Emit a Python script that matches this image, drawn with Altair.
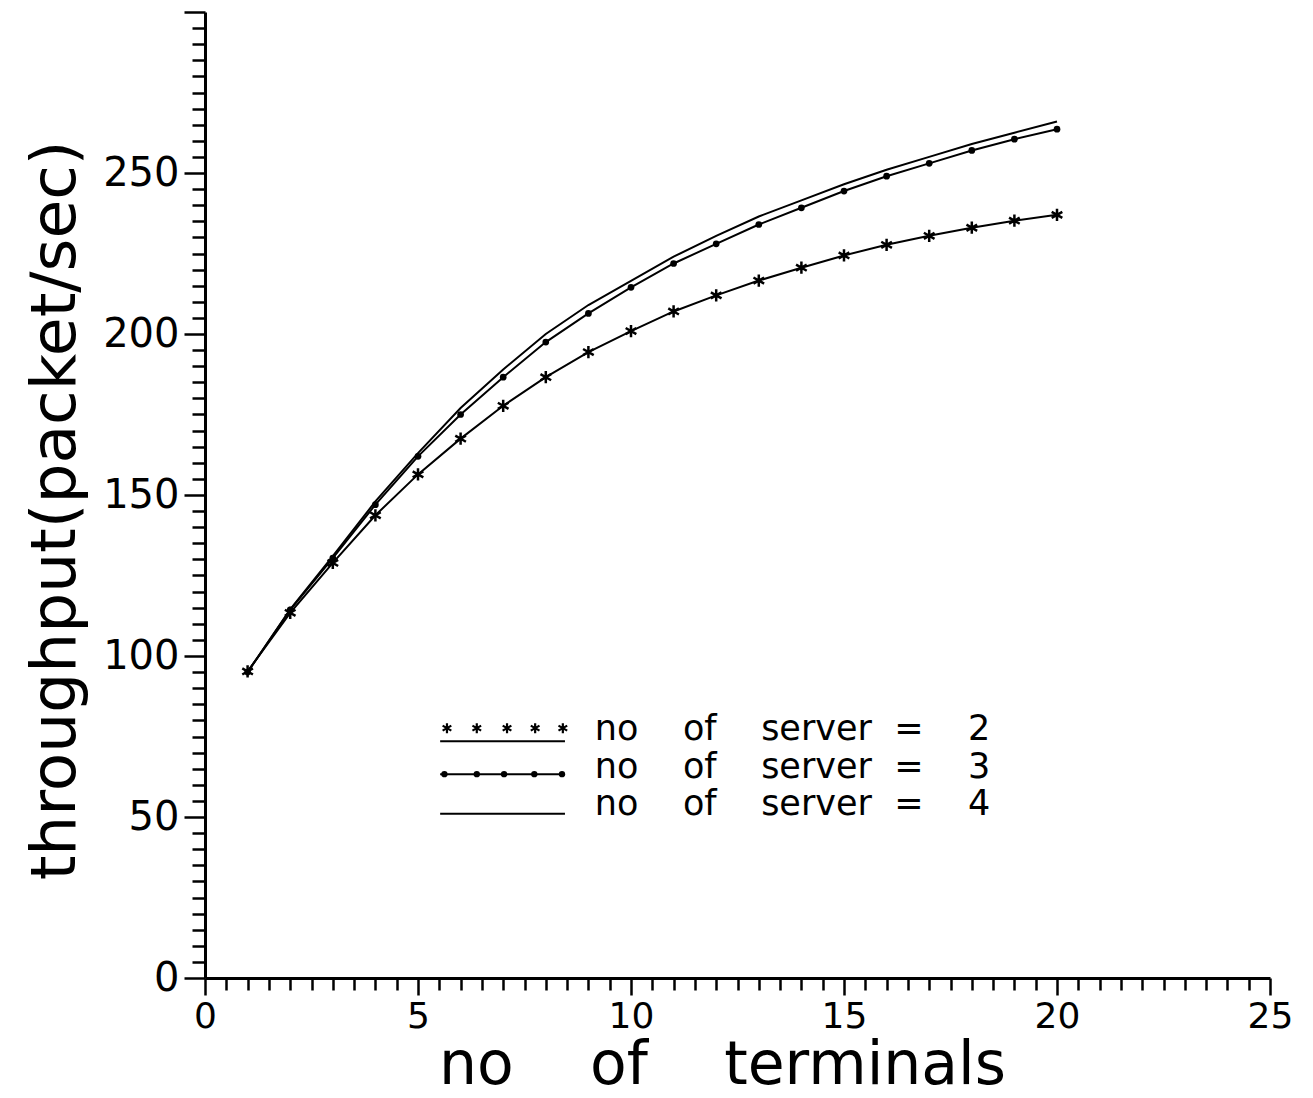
import altair as alt
import pandas as pd

# Throughput of the terminal/server system, one series per number of servers
terminals = list(range(1, 21))
server2 = [95.2, 113.4, 128.9, 143.7, 156.4, 167.5, 177.7, 186.6, 194.4, 200.9,
           207.0, 212.0, 216.6, 220.6, 224.4, 227.7, 230.5, 233.0, 235.2, 237.0]
server3 = [95.0, 114.3, 130.4, 147.0, 162.0, 175.0, 186.6, 197.5, 206.4, 214.5,
           221.9, 228.0, 234.0, 239.2, 244.4, 249.0, 253.0, 257.0, 260.5, 263.6]
server4 = [95.0, 114.5, 131.0, 148.0, 163.0, 177.0, 189.0, 200.0, 209.0, 216.5,
           224.0, 230.5, 236.5, 241.5, 246.5, 251.0, 255.0, 259.0, 262.5, 266.0]

NB = "\u00a0"  # non-breaking space keeps the wide word gaps in SVG text


def spaced(words, gaps):
    out = words[0]
    for w, g in zip(words[1:], gaps):
        out += NB * g + w
    return out


# Hand-drawn legend: sample strokes and labels in data units
server_counts = ["2", "3", "4"]
legend_labels = [spaced(["no", "of", "server", "=", n], [4, 4, 2, 4]) for n in server_counts]
legend_text_x = [9.15, 9.15, 9.15]
legend_text_y = [77.3, 65.5, 54.0]
legend_line_x0 = [5.52, 5.52, 5.52]
legend_line_x1 = [8.45, 8.45, 8.45]
legend_line_y = [73.5, 63.3, 51.0]
legend_star_x = [5.68, 6.38, 7.09, 7.75, 8.40]
legend_star_y = 77.6
legend_dot_x = [5.62, 6.38, 7.02, 7.73, 8.38]

FONT = "DejaVu Sans"

curves = pd.DataFrame({
    "terminals": terminals * 3,
    "throughput": server2 + server3 + server4,
    "series": ["2"] * 20 + ["3"] * 20 + ["4"] * 20,
})
stars = pd.DataFrame({"terminals": terminals, "throughput": server2})
dots = pd.DataFrame({"terminals": terminals, "throughput": server3})

x_axis = alt.Axis(
    values=[i * 0.5 for i in range(51)],
    labelExpr="datum.value % 5 === 0 ? format(datum.value, 'd') : ''",
    tickSize={"condition": {"test": "datum.value % 5 === 0", "value": 17}, "value": 12},
    labelPadding=4,
    labelFlush=False,
    labelFontSize=36,
    title=spaced(["no", "of", "terminals"], [4, 4]),
    titleFontSize=60,
    titleFontWeight="normal",
    titleFont=FONT,
    titleColor="black",
    titleX=517,
    titleY=105,
    titleBaseline="alphabetic",
    titleAnchor="middle",
    titleAlign="center",
    grid=False,
)
y_axis = alt.Axis(
    values=[i * 5 for i in range(61)],
    labelExpr="datum.value % 50 === 0 && datum.value < 300 ? format(datum.value, 'd') : ''",
    tickSize={"condition": {"test": "datum.value % 50 === 0", "value": 21}, "value": 13},
    labelPadding=5,
    labelFlush=False,
    labelFontSize=40,
    title="throughput(packet/sec)",
    titleFontSize=63,
    titleFontWeight="normal",
    titleFont=FONT,
    titleColor="black",
    titleAngle=-90,
    titleX=-150,
    titleY=498,
    titleAlign="center",
    titleBaseline="middle",
    grid=False,
)
x_scale = alt.Scale(domain=[0, 25], nice=False, zero=False)
y_scale = alt.Scale(domain=[0, 300], nice=False, zero=False)


def ex(field):
    return alt.X(field, type="quantitative", scale=x_scale, axis=x_axis)


def ey(field):
    return alt.Y(field, type="quantitative", scale=y_scale, axis=y_axis)


asterisk = "M0,-1L0,1M-0.87,-0.5L0.87,0.5M-0.87,0.5L0.87,-0.5"

lines = alt.Chart(curves).mark_line(color="black", strokeWidth=2).encode(
    x=ex("terminals"), y=ey("throughput"), detail="series:N"
)
star_pts = alt.Chart(stars).mark_point(
    shape=asterisk, filled=False, color="black", strokeWidth=2.5, size=150, opacity=1
).encode(x=ex("terminals"), y=ey("throughput"))
dot_pts = alt.Chart(dots).mark_circle(color="black", size=45, opacity=1).encode(
    x=ex("terminals"), y=ey("throughput")
)

leg_df = pd.DataFrame({
    "label": legend_labels,
    "tx": legend_text_x,
    "ty": legend_text_y,
    "x0": legend_line_x0,
    "x1": legend_line_x1,
    "ly": legend_line_y,
})
leg_lines = alt.Chart(leg_df).mark_rule(color="black", strokeWidth=2).encode(
    x=ex("x0"), x2="x1", y=ey("ly")
)
leg_text = alt.Chart(leg_df).mark_text(
    align="left", baseline="middle", font=FONT, fontSize=35, color="black"
).encode(x=ex("tx"), y=ey("ty"), text="label:N")
leg_stars = alt.Chart(pd.DataFrame({
    "sx": legend_star_x, "sy": [legend_star_y] * len(legend_star_x)
})).mark_point(
    shape=asterisk, filled=False, color="black", strokeWidth=2.2, size=100, opacity=1
).encode(x=ex("sx"), y=ey("sy"))
leg_dots = alt.Chart(pd.DataFrame({
    "dx": legend_dot_x, "dy": [legend_line_y[1]] * len(legend_dot_x)
})).mark_circle(color="black", size=40, opacity=1).encode(x=ex("dx"), y=ey("dy"))

chart = alt.layer(
    lines, star_pts, dot_pts, leg_lines, leg_stars, leg_dots, leg_text
).properties(
    width=1065,
    height=966,
    autosize=alt.AutoSizeParams(type="none"),
    padding={"left": 205, "top": 12, "right": 43, "bottom": 120},
    background="white",
).configure_view(stroke=None).configure_axis(
    domainColor="black",
    domainWidth=3,
    tickColor="black",
    tickWidth=2.5,
    labelColor="black",
    labelFont=FONT,
    labelFontWeight="normal",
)

chart.save("out.html", embed_options={"renderer": "svg", "actions": False})
